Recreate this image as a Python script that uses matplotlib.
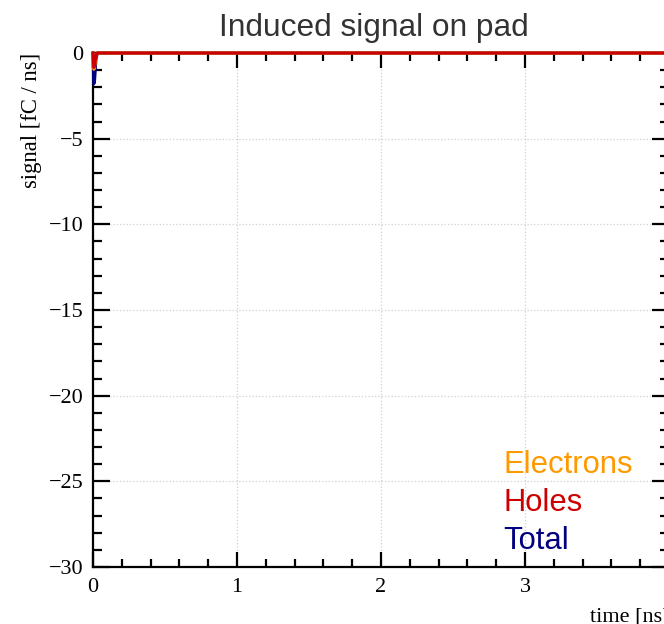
import numpy as np
import matplotlib
matplotlib.use("Agg")
import matplotlib.pyplot as plt
from matplotlib.ticker import MultipleLocator

# Signal data (fC/ns) vs time (ns)
time_ns = [0.0, 0.005, 0.01, 0.015, 0.02, 0.03, 4.0]
electrons = [0.0, -0.95, -0.9, -0.6, -0.2, 0.0, 0.0]
holes = [0.0, -0.85, -0.8, -0.5, -0.2, 0.0, 0.0]
total = [0.0, -1.8, -1.7, -1.1, -0.4, 0.0, 0.0]

legend_labels = ["Electrons", "Holes", "Total"]
colors = ["#FF9900", "#CC0000", "#000080"]

fig = plt.figure(figsize=(6.64, 6.24), dpi=100)
# axes run a little past the right edge (picture is cropped there)
ax = fig.add_axes([93 / 664, 57 / 624, 576 / 664, 514 / 624])

ax.plot(time_ns, total, color=colors[2], lw=2.2, zorder=3, clip_on=False)
ax.plot(time_ns, electrons, color=colors[0], lw=2.2, zorder=3, clip_on=False)
ax.plot(time_ns, holes, color=colors[1], lw=2.2, zorder=3, clip_on=False)

ax.set_xlim(0, 4)
ax.set_ylim(-30, 0)

ax.xaxis.set_major_locator(MultipleLocator(1))
ax.xaxis.set_minor_locator(MultipleLocator(0.2))
ax.yaxis.set_major_locator(MultipleLocator(5))
ax.yaxis.set_minor_locator(MultipleLocator(1))

serif = "Liberation Serif"
ax.tick_params(axis="x", which="major", direction="in", length=11, width=1.6,
               top=True, pad=8, labelsize=16)
ax.tick_params(axis="x", which="minor", direction="in", length=5.5, width=1.6, top=True)
ax.tick_params(axis="y", which="major", direction="in", length=12.5, width=1.6,
               right=True, pad=7, labelsize=16)
ax.tick_params(axis="y", which="minor", direction="in", length=6.2, width=1.6, right=True)
for lab in ax.get_xticklabels() + ax.get_yticklabels():
    lab.set_fontfamily(serif)

for sp in ax.spines.values():
    sp.set_linewidth(1.6)

ax.grid(True, which="major", color="#d0d0d0", linestyle=":", linewidth=0.9)
ax.set_axisbelow(True)

ax.set_ylabel("signal [fC / ns]", fontfamily=serif, fontsize=16.3)
ax.yaxis.set_label_coords(-0.088, 1.0)
ax.yaxis.label.set_horizontalalignment("right")

ax.set_xlabel("time [ns]", fontfamily=serif, fontsize=16)
ax.xaxis.set_label_coords(1.0, -0.078)
ax.xaxis.label.set_horizontalalignment("right")

# legend as coloured text
for i, (lab, col) in enumerate(zip(legend_labels, colors)):
    ax.text(0.712, 0.199 - i * 0.074, lab, color=col, fontsize=22.3,
            fontfamily="Liberation Sans", transform=ax.transAxes, va="center")

fig.text(0.563, 0.955, "Induced signal on pad", ha="center", va="center",
         fontsize=22.8, color="#333333", fontfamily="Liberation Sans")

fig.savefig("out.png", dpi=100)
